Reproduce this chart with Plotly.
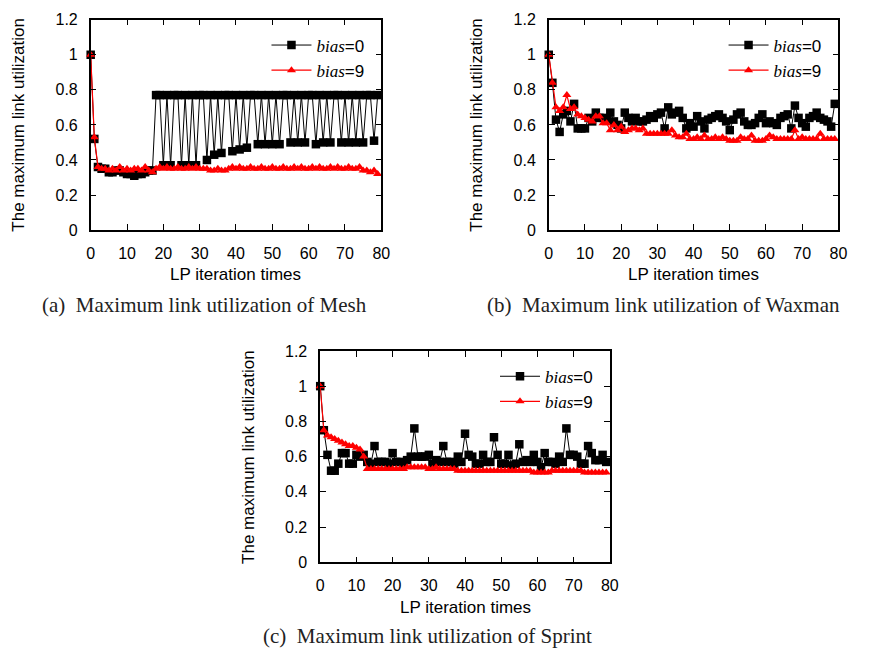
import plotly.graph_objects as go

W, H = 872, 659

iterations = list(range(80))

mesh_bias0 = [1.00, 0.52, 0.36, 0.35, 0.35, 0.33, 0.33, 0.34, 0.34, 0.33,
              0.32, 0.32, 0.31, 0.32, 0.32, 0.33, 0.34, 0.34, 0.77, 0.77,
              0.37, 0.77, 0.37, 0.77, 0.77, 0.37, 0.77, 0.37, 0.77, 0.37,
              0.77, 0.77, 0.40, 0.77, 0.43, 0.77, 0.44, 0.77, 0.77, 0.45,
              0.77, 0.46, 0.77, 0.47, 0.77, 0.77, 0.49, 0.77, 0.49, 0.77,
              0.49, 0.77, 0.49, 0.77, 0.77, 0.50, 0.77, 0.50, 0.77, 0.50,
              0.77, 0.77, 0.49, 0.77, 0.50, 0.77, 0.50, 0.77, 0.77, 0.50,
              0.77, 0.50, 0.77, 0.50, 0.77, 0.50, 0.77, 0.77, 0.51, 0.77]
mesh_bias9 = [1.00, 0.53, 0.36, 0.35, 0.35, 0.34, 0.35, 0.34, 0.36, 0.34,
              0.35, 0.34, 0.35, 0.35, 0.34, 0.36, 0.34, 0.33, 0.35, 0.36,
              0.35, 0.36, 0.35, 0.35, 0.36, 0.35, 0.35, 0.36, 0.35, 0.36,
              0.35, 0.35, 0.35, 0.34, 0.34, 0.35, 0.34, 0.34, 0.35, 0.36,
              0.35, 0.36, 0.35, 0.35, 0.36, 0.35, 0.35, 0.36, 0.35, 0.35,
              0.36, 0.35, 0.35, 0.36, 0.35, 0.35, 0.36, 0.35, 0.36, 0.35,
              0.35, 0.36, 0.35, 0.36, 0.35, 0.35, 0.36, 0.35, 0.36, 0.35,
              0.35, 0.36, 0.35, 0.35, 0.36, 0.34, 0.34, 0.33, 0.34, 0.32]

waxman_bias0 = [1.00, 0.84, 0.63, 0.56, 0.66, 0.68, 0.62, 0.72, 0.58, 0.58,
                0.58, 0.64, 0.62, 0.67, 0.64, 0.64, 0.63, 0.67, 0.62, 0.60,
                0.58, 0.67, 0.64, 0.62, 0.64, 0.62, 0.62, 0.63, 0.65, 0.64,
                0.66, 0.67, 0.58, 0.70, 0.66, 0.67, 0.68, 0.64, 0.58, 0.61,
                0.59, 0.65, 0.62, 0.58, 0.63, 0.64, 0.65, 0.66, 0.64, 0.62,
                0.57, 0.63, 0.66, 0.67, 0.62, 0.60, 0.60, 0.61, 0.64, 0.66,
                0.61, 0.62, 0.61, 0.60, 0.64, 0.65, 0.66, 0.58, 0.71, 0.64,
                0.61, 0.59, 0.64, 0.65, 0.67, 0.64, 0.63, 0.62, 0.59, 0.72]
waxman_bias9 = [1.00, 0.84, 0.70, 0.68, 0.70, 0.77, 0.69, 0.70, 0.66, 0.65,
                0.64, 0.63, 0.62, 0.65, 0.65, 0.61, 0.61, 0.57, 0.60, 0.57,
                0.59, 0.56, 0.57, 0.58, 0.58, 0.57, 0.58, 0.55, 0.55, 0.55,
                0.55, 0.55, 0.55, 0.55, 0.57, 0.54, 0.53, 0.53, 0.55, 0.52,
                0.52, 0.53, 0.52, 0.54, 0.52, 0.52, 0.53, 0.52, 0.53, 0.52,
                0.51, 0.51, 0.51, 0.53, 0.52, 0.52, 0.54, 0.51, 0.51, 0.51,
                0.52, 0.54, 0.53, 0.52, 0.52, 0.52, 0.52, 0.52, 0.57, 0.52,
                0.53, 0.52, 0.52, 0.52, 0.52, 0.55, 0.52, 0.52, 0.52, 0.52]

sprint_bias0 = [1.00, 0.75, 0.61, 0.52, 0.52, 0.56, 0.62, 0.62, 0.56, 0.56,
                0.61, 0.60, 0.61, 0.57, 0.56, 0.66, 0.57, 0.57, 0.57, 0.56,
                0.62, 0.57, 0.57, 0.56, 0.58, 0.60, 0.76, 0.60, 0.60, 0.60,
                0.61, 0.56, 0.58, 0.57, 0.66, 0.57, 0.57, 0.56, 0.60, 0.57,
                0.73, 0.61, 0.60, 0.56, 0.56, 0.61, 0.57, 0.57, 0.71, 0.61,
                0.56, 0.56, 0.61, 0.55, 0.56, 0.67, 0.57, 0.58, 0.57, 0.61,
                0.57, 0.54, 0.62, 0.57, 0.57, 0.56, 0.60, 0.57, 0.76, 0.61,
                0.61, 0.60, 0.56, 0.56, 0.66, 0.62, 0.58, 0.58, 0.61, 0.57]
sprint_bias9 = [1.00, 0.75, 0.72, 0.71, 0.70, 0.69, 0.68, 0.67, 0.66, 0.66,
                0.65, 0.64, 0.60, 0.53, 0.53, 0.53, 0.53, 0.53, 0.53, 0.53,
                0.53, 0.53, 0.53, 0.53, 0.54, 0.54, 0.54, 0.54, 0.54, 0.54,
                0.53, 0.53, 0.54, 0.53, 0.53, 0.53, 0.53, 0.53, 0.52, 0.52,
                0.52, 0.52, 0.52, 0.52, 0.52, 0.52, 0.52, 0.52, 0.52, 0.52,
                0.52, 0.52, 0.52, 0.52, 0.52, 0.52, 0.52, 0.52, 0.52, 0.51,
                0.51, 0.51, 0.51, 0.51, 0.52, 0.52, 0.52, 0.52, 0.52, 0.52,
                0.52, 0.52, 0.52, 0.51, 0.51, 0.51, 0.51, 0.51, 0.51, 0.51]

x_ticks = [0, 10, 20, 30, 40, 50, 60, 70, 80]
y_ticks = [0, 0.2, 0.4, 0.6, 0.8, 1.0, 1.2]
y_tick_text = ["0", "0.2", "0.4", "0.6", "0.8", "1", "1.2"]

series_names = ["<span style='font-family:Liberation Serif'><i>bias</i></span>=0",
                "<span style='font-family:Liberation Serif'><i>bias</i></span>=9"]
captions = ["(a)  Maximum link utilization of Mesh",
            "(b)  Maximum link utilization of Waxman",
            "(c)  Maximum link utilization of Sprint"]
x_title = "LP iteration times"
y_title = "The maximum link utilization"

SANS = "Liberation Sans, Arial, sans-serif"
SERIF = "Liberation Serif, Times New Roman, serif"

# plot-area pixel boxes (left, right, top, bottom)
boxes = [(88, 383, 12, 228), (553, 847, 12, 228), (321, 615, 352, 569)]
datasets = [(mesh_bias0, mesh_bias9), (waxman_bias0, waxman_bias9), (sprint_bias0, sprint_bias9)]
caption_pos = [(204, 305), (669, 305), (430, 645)]
legend_names = ["legend", "legend2", "legend3"]

fig = go.Figure()
layout = dict(width=W, height=H, margin=dict(l=0, r=0, t=0, b=0),
              paper_bgcolor="white", plot_bgcolor="white",
              font=dict(family=SANS, size=16, color="black"),
              annotations=[])

for i, ((l, r, t, b), (s0, s9)) in enumerate(zip(boxes, datasets)):
    n = "" if i == 0 else str(i + 1)
    xa, ya = "x" + n, "y" + n
    fig.add_trace(go.Scatter(x=iterations, y=s0, mode="lines+markers", name=series_names[0],
                             xaxis=xa, yaxis=ya, legend=legend_names[i], cliponaxis=False,
                             line=dict(color="black", width=1),
                             marker=dict(symbol="square", size=8.5, color="black")))
    fig.add_trace(go.Scatter(x=iterations, y=s9, mode="lines+markers", name=series_names[1],
                             xaxis=xa, yaxis=ya, legend=legend_names[i], cliponaxis=False,
                             line=dict(color="#ff0000", width=1.2),
                             marker=dict(symbol="triangle-up", size=8, color="#ff0000")))
    common = dict(showline=True, linecolor="black", linewidth=1.5, mirror="ticks",
                  ticks="inside", ticklen=6, tickwidth=1, tickcolor="black",
                  showgrid=False, zeroline=False, tickfont=dict(family=SANS, size=16))
    layout["xaxis" + n] = dict(domain=[l / W, r / W], range=[0, 80], tickvals=x_ticks,
                               anchor=ya, ticklabelstandoff=8, **common)
    layout["yaxis" + n] = dict(domain=[1 - b / H, 1 - t / H], range=[0, 1.2], tickvals=y_ticks,
                               ticktext=y_tick_text, anchor=xa, ticklabelstandoff=8, **common)
    layout[legend_names[i]] = dict(x=(r - 12) / W, y=1 - (t + 8) / H, xanchor="right", yanchor="top",
                                   xref="paper", yref="paper", bgcolor="rgba(0,0,0,0)",
                                   font=dict(family=SANS, size=17), tracegroupgap=0,
                                   itemwidth=40)
    layout["annotations"].append(dict(text=x_title, x=(l + r) / 2 / W, y=1 - (b + 46) / H,
                                      xref="paper", yref="paper", showarrow=False,
                                      xanchor="center", yanchor="middle",
                                      font=dict(family=SANS, size=17)))
    layout["annotations"].append(dict(text=y_title, x=(l - 73) / W, y=1 - (t + b) / 2 / H,
                                      xref="paper", yref="paper", showarrow=False, textangle=-90,
                                      xanchor="center", yanchor="middle",
                                      font=dict(family=SANS, size=17)))
    cx, cy = caption_pos[i]
    layout["annotations"].append(dict(text=captions[i], x=cx / W, y=1 - cy / H,
                                      xref="paper", yref="paper", showarrow=False,
                                      xanchor="center", yanchor="middle",
                                      font=dict(family=SERIF, size=21, color="#222")))

fig.update_layout(**layout)
fig.write_html("out.html")
